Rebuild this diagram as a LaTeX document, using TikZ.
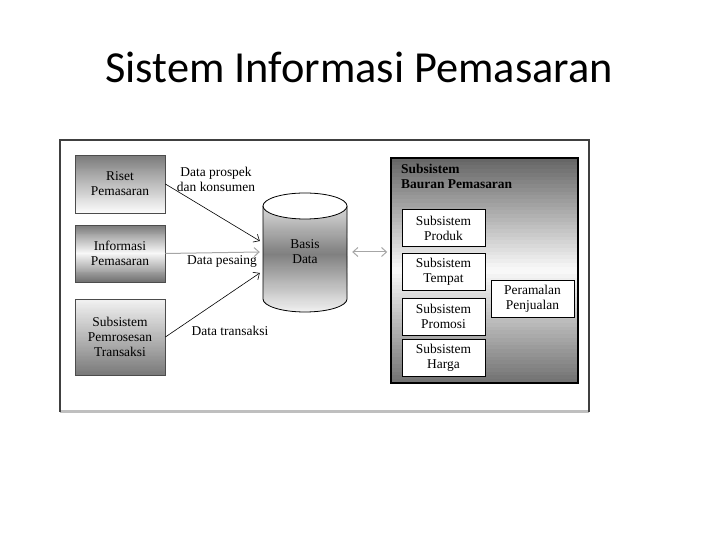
\documentclass[tikz,border=0pt]{standalone}
\usepackage{fontspec}
\setmainfont{Liberation Serif}
\newfontfamily\titlefont{Carlito}
\usetikzlibrary{arrows.meta, calc}

\begin{document}
\begin{tikzpicture}[x=1bp, y=1bp,
  txt/.style={font=\fontsize{13.5}{15}\selectfont, align=center, inner sep=0pt},
  grad/.style n args={3}{path picture={
    \foreach \k in {0,...,59}{
      \pgfmathsetmacro\v{\k<30 ? #1+(#2-#1)*\k/29.5 : #2+(#3-#2)*(\k-29.5)/29.5}
      \fill [black!\v] ($(path picture bounding box.north west)!{\k/60}!(path picture bounding box.south west)$) rectangle ($(path picture bounding box.north east)!{(\k+1.5)/60}!(path picture bounding box.south east)$);
    }}},
  srcbox/.style={draw=black!70, line width=0.8bp, minimum width=90bp, txt},
  subbox/.style={draw=black, fill=white, line width=0.9bp, minimum width=83bp, minimum height=37bp, txt},
  flow/.style={-{Straight Barb[length=5bp, width=9bp]}, line width=0.6bp},
  dflow/.style={{Straight Barb[length=5bp, width=9bp]}-{Straight Barb[length=5bp, width=9bp]}, line width=1bp, black!35}
]
\useasboundingbox (0,0) rectangle (720,540);

\def \xsrc {120}
\def \xsub {443.5}

% title
\node [font=\titlefont\fontsize{44.5}{50}\selectfont, anchor=base] (judul) at (359, 457) {Sistem Informasi Pemasaran};

% frame
\draw [black!25, line width=3bp] (60, 128) -- (589, 128);
\draw [black!75, line width=1.2bp] (60, 128) -- (60, 400) -- (589, 400) -- (589, 128);

% sources
\node [srcbox, minimum height=58bp, grad={52}{26}{2}] (riset) at (\xsrc, 356) {Riset\\Pemasaran};
\node [srcbox, minimum height=57bp, grad={52}{2}{55}] (info) at (\xsrc, 286.5) {Informasi\\Pemasaran};
\node [srcbox, minimum height=76bp, grad={5}{28}{52}] (tps) at (\xsrc, 203) {Subsistem\\Pemrosesan\\Transaksi};

% database
\begin{scope}
\clip (263, 334) -- (263, 241) arc [start angle=180, end angle=360, x radius=42, y radius=13] -- (347, 334) -- cycle;
\foreach \k in {0,...,99}{
  \pgfmathsetmacro\v{\k<45 ? 15+35*\k/45 : 50-44*(\k-45)/54}
  \pgfmathsetmacro\ya{334-\k*1.06}
  \fill [black!\v] (262, \ya) rectangle (348, \ya-1.8);
}
\end{scope}
\draw [line width=0.8bp] (263, 334) -- (263, 241) arc [start angle=180, end angle=360, x radius=42, y radius=13] -- (347, 334);
\draw [fill=white, line width=0.8bp] (305, 334) ellipse [x radius=42, y radius=13];
\node [txt, minimum width=90bp, minimum height=40bp] (basis) at (305, 288) {Basis\\Data};

% marketing mix
\node [draw=black, line width=1.5bp, minimum width=187bp, minimum height=225bp, grad={60}{2}{55}] (bauran) at (484.5, 269.5) {};
\node [txt, font=\fontsize{13.5}{15}\selectfont\bfseries, align=left, anchor=north west] (judulbauran) at (401, 376) {Subsistem\\Bauran Pemasaran};
\node [subbox] (produk) at (\xsub, 312) {Subsistem\\Produk};
\node [subbox] (tempat) at (\xsub, 268.5) {Subsistem\\Tempat};
\node [subbox] (promosi) at (\xsub, 223.5) {Subsistem\\Promosi};
\node [subbox] (harga) at (\xsub, 182.5) {Subsistem\\Harga};
\node [subbox] (ramal) at (532.5, 241.5) {Peramalan\\Penjualan};

% flows
\draw [flow] (riset.east) -- ([yshift=11bp]basis.west);
\draw [flow, black!35, line width=1bp] (info.east) -- (basis.west);
\draw [flow] (tps.east) -- ([yshift=-21bp]basis.west);
\draw [dflow, shorten <=2bp, shorten >=3bp] (basis.east) -- (basis.east -| bauran.west);

% flow labels
\node [txt] (lprospek) at (216, 361) {Data prospek\\dan konsumen};
\node [txt] (lpesaing) at (222, 278) {Data pesaing};
\node [txt] (ltransaksi) at (230, 209) {Data transaksi};

\end{tikzpicture}
\end{document}
